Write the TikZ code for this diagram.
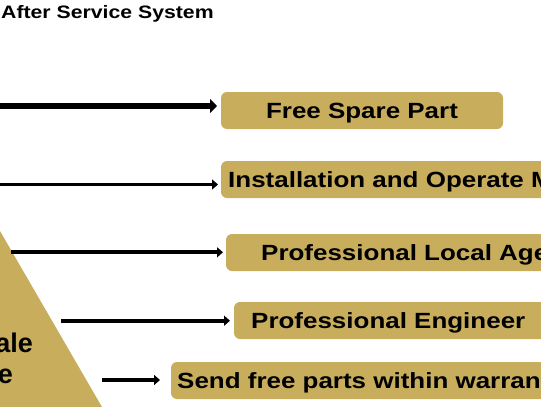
\documentclass[tikz,border=0pt]{standalone}
\usepackage{fontspec}
\newfontfamily\lab{Liberation Sans}[FakeStretch=1.18]
\newfontfamily\labn{Liberation Sans}
\usetikzlibrary{arrows.meta}
\definecolor{gold}{RGB}{200,173,92}
\tikzset{
  gbox/.style={fill=gold, draw=none, rounded corners=6pt, inner sep=0pt, outer sep=0pt, anchor=north west},
  btxt/.style={font=\lab\bfseries\fontsize{22}{26}\selectfont, text=black, inner sep=0pt, anchor=base west},
  sidetxt/.style={font=\labn\bfseries\fontsize{27}{30}\selectfont, text=black, inner sep=0pt, anchor=base east},
  bigarr/.style={line width=5.5pt, -{Triangle[length=7pt,width=14pt]}},
  arr/.style={line width=3.8pt, -{Triangle[length=6pt,width=10pt]}}
}
\begin{document}
\begin{tikzpicture}[x=1pt,y=-1pt]
\useasboundingbox (0,0) rectangle (541,407);
\begin{scope}
\clip (0,0) rectangle (541,407);
% pyramid edge
\fill[gold] (0,231) -- (102,407) -- (0,407) -- cycle;
\node[sidetxt] (sale) at (33,352) {ale};
\node[sidetxt] (serv) at (13,383) {e};
% title
\node[font=\lab\bfseries\fontsize{18}{22}\selectfont, inner sep=0pt, anchor=base west] (title) at (1,18) {After Service System};
% boxes
\node[gbox, minimum width=282pt, minimum height=37pt] (b1) at (221,92) {};
\node[gbox, minimum width=400pt, minimum height=37pt] (b2) at (221,161) {};
\node[gbox, minimum width=400pt, minimum height=37pt] (b3) at (226,234) {};
\node[gbox, minimum width=400pt, minimum height=37pt] (b4) at (234,302) {};
\node[gbox, minimum width=400pt, minimum height=37pt] (b5) at (171,362) {};
% texts
\node[btxt, anchor=base] (t1) at (362,118.5) {Free Spare Part};
\node[btxt] (t2) at (228,187.5) {Installation and Operate M};
\node[btxt] (t3) at (261,260.5) {Professional Local Age};
\node[btxt] (t4) at (251,328.5) {Professional Engineer};
\node[btxt] (t5) at (177,388.5) {Send free parts within warran};
% arrows
\coordinate (s1) at (0,106);
\coordinate (s2) at (0,184.5);
\coordinate (s3) at (11,252.3);
\coordinate (s4) at (61,320.7);
\coordinate (s5) at (102,380);
\draw[bigarr, shorten >=4pt] (s1) -- (s1 -| b1.west);
\draw[arr, shorten >=3pt] (s2) -- (s2 -| b2.west);
\draw[arr, shorten >=3pt] (s3) -- (s3 -| b3.west);
\draw[arr, shorten >=4pt] (s4) -- (s4 -| b4.west);
\draw[arr, shorten >=11pt] (s5) -- (s5 -| b5.west);
\end{scope}
\end{tikzpicture}
\end{document}
